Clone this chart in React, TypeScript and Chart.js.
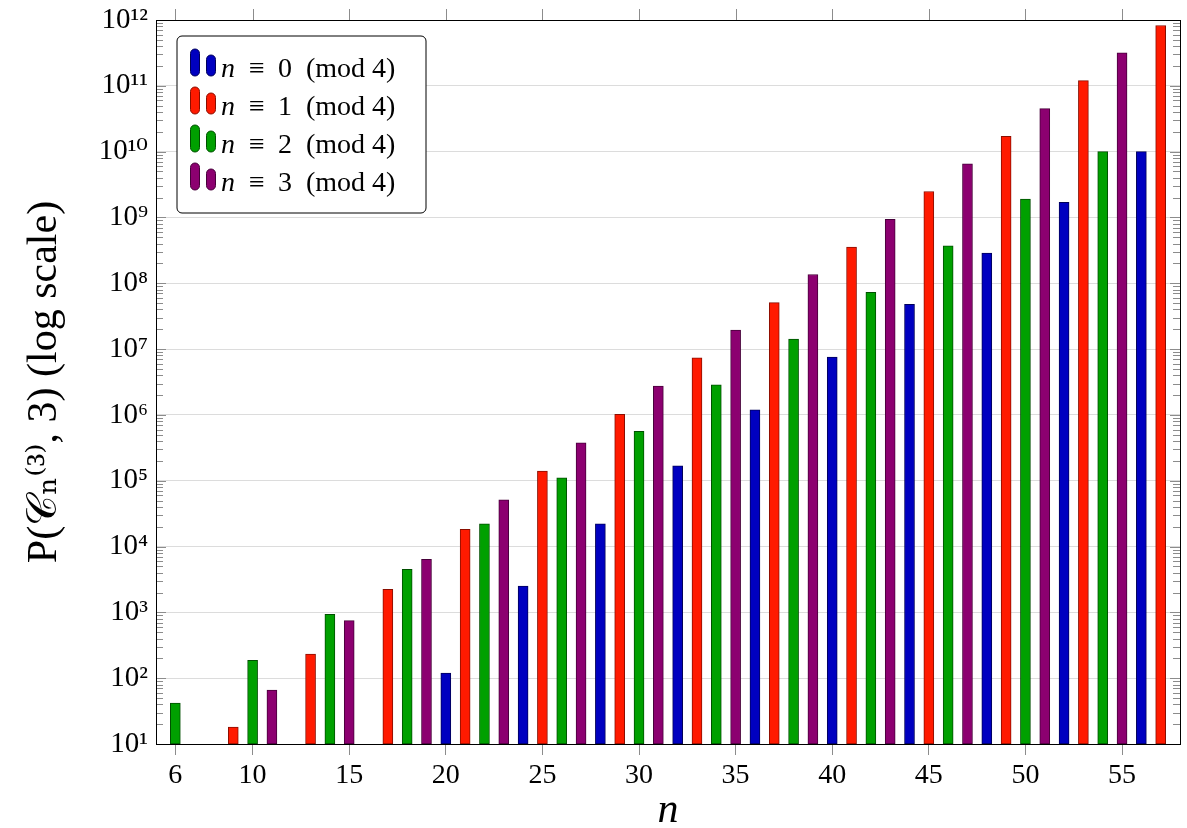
import React, { useEffect, useRef } from 'react';
import { Chart, registerables } from 'chart.js';

Chart.register(...registerables);

// ---- data ----
const nValues = [
  6, 7, 8, 9, 10, 11, 12, 13, 14, 15, 16, 17, 18, 19, 20, 21, 22, 23, 24, 25, 26,
  27, 28, 29, 30, 31, 32, 33, 34, 35, 36, 37, 38, 39, 40, 41, 42, 43, 44, 45, 46,
  47, 48, 49, 50, 51, 52, 53, 54, 55, 56, 57,
];
const pValues: (number | null)[] = [
  42, null, null, 18, 187, 66, null, 233, 933, 748, null, 2240, 4500, 6380, 120,
  18300, 22100, 51300, 2500, 140000, 111000, 378000, 22100, 1020000, 561000,
  2730000, 169000, 7350000, 2860000, 19500000, 1190000, 50700000, 14200000,
  136000000, 7550000, 356000000, 73000000, 940000000, 48000000, 2480000000,
  372000000, 6530000000, 288000000, 17100000000, 1900000000, 45000000000,
  1700000000, 120000000000, 10000000000, 317000000000, 10000000000, 824000000000,
];
const residues = [0, 1, 2, 3];
const seriesLabels = ['n ≡ 0 (mod 4)', 'n ≡ 1 (mod 4)', 'n ≡ 2 (mod 4)', 'n ≡ 3 (mod 4)'];
const xTickValues = [6, 10, 15, 20, 25, 30, 35, 40, 45, 50, 55];
const yTickExponents = [1, 2, 3, 4, 5, 6, 7, 8, 9, 10, 11, 12];

// ---- styles ----
const fillColors = ['#0000c0', '#ff1a00', '#00a000', '#8c0070'];
const borderColors = ['#00005a', '#8a0e00', '#004f00', '#47003a'];
const FONT = "'Liberation Serif', 'DejaVu Serif', serif";
const SUP = '⁰¹²³⁴⁵⁶⁷⁸⁹';
const toSup = (k: number) => String(k).split('').map((d) => SUP[+d]).join('');

const framePlugin = {
  id: 'frameTicks',
  afterDraw(chart: any) {
    const { ctx, chartArea: ca, scales } = chart;
    const xs = scales.x;
    const ys = scales.y;
    ctx.save();
    ctx.lineWidth = 1;
    ctx.strokeStyle = '#8c8c8c';
    const line = (x1: number, y1: number, x2: number, y2: number) => {
      ctx.beginPath();
      ctx.moveTo(x1, y1);
      ctx.lineTo(x2, y2);
      ctx.stroke();
    };
    for (const e of yTickExponents) {
      for (let m = 1; m <= 9; m++) {
        if (e === 12 && m > 1) break;
        const v = m * Math.pow(10, e);
        const py = Math.round(ys.getPixelForValue(v)) + 0.5;
        const len = m === 1 ? 10 : 7;
        line(ca.left, py, ca.left + len, py);
        line(ca.right - len, py, ca.right, py);
      }
    }
    for (const t of xTickValues) {
      const px = Math.round(xs.getPixelForValue(t)) + 0.5;
      line(px, ca.top, px, ca.top - 11);
    }
    ctx.strokeStyle = '#000';
    ctx.strokeRect(ca.left + 0.5, ca.top + 0.5, ca.right - ca.left, ca.bottom - ca.top);

    // legend box
    const bx = 177, by = 36, bw = 249, bh = 177, r = 5;
    ctx.beginPath();
    ctx.moveTo(bx + r, by);
    ctx.arcTo(bx + bw, by, bx + bw, by + bh, r);
    ctx.arcTo(bx + bw, by + bh, bx, by + bh, r);
    ctx.arcTo(bx, by + bh, bx, by, r);
    ctx.arcTo(bx, by, bx + bw, by, r);
    ctx.closePath();
    ctx.fillStyle = '#fff';
    ctx.fill();
    ctx.strokeStyle = '#000';
    ctx.lineWidth = 1;
    ctx.stroke();

    const pill = (x: number, y: number, w: number, h: number, fill: string, stroke: string) => {
      const rr = w / 2;
      ctx.beginPath();
      ctx.moveTo(x + rr, y);
      ctx.arcTo(x + w, y, x + w, y + h, rr);
      ctx.arcTo(x + w, y + h, x, y + h, rr);
      ctx.arcTo(x, y + h, x, y, rr);
      ctx.arcTo(x, y, x + w, y, rr);
      ctx.closePath();
      ctx.fillStyle = fill;
      ctx.fill();
      ctx.strokeStyle = stroke;
      ctx.stroke();
    };

    chart.data.datasets.forEach((ds: any, i: number) => {
      const base = 77 + i * 38;
      pill(190.5, base - 28, 9, 27, ds.backgroundColor, ds.borderColor);
      pill(206.5, base - 22, 9, 21, ds.backgroundColor, ds.borderColor);
      ctx.fillStyle = '#000';
      ctx.textBaseline = 'alphabetic';
      ctx.textAlign = 'left';
      const parts = String(ds.label).split(' ');
      ctx.font = `italic 28px ${FONT}`;
      ctx.fillText(parts[0], 221, base);
      ctx.font = `28px ${FONT}`;
      ctx.textAlign = 'center';
      ctx.fillText(parts[1], 257, base);
      ctx.fillText(parts[2], 285, base);
      ctx.textAlign = 'left';
      ctx.fillText(parts.slice(3).join(' '), 306, base);
    });
    ctx.restore();
  },
};

export default function App() {
  const canvasRef = useRef<HTMLCanvasElement | null>(null);

  useEffect(() => {
    const canvas = canvasRef.current;
    if (!canvas) return;
    const datasets = residues.map((res, i) => ({
      label: seriesLabels[i],
      data: nValues
        .map((n, k) => ({ x: n, y: pValues[k] }))
        .filter((p) => p.x % 4 === res && p.y !== null),
      backgroundColor: fillColors[i],
      borderColor: borderColors[i],
      borderWidth: 1,
      borderSkipped: false,
      barThickness: 10,
      grouped: false,
    }));

    const chart = new Chart(canvas, {
      type: 'bar',
      data: { datasets },
      plugins: [framePlugin],
      options: {
        animation: false,
        responsive: false,
        devicePixelRatio: 1,
        layout: { padding: { top: 20, right: 7, left: 0, bottom: 0 } },
        plugins: { legend: { display: false }, tooltip: { enabled: false } },
        scales: {
          x: {
            type: 'linear',
            offset: false,
            min: 5,
            max: 58,
            afterBuildTicks: (s: any) => {
              s.ticks = xTickValues.map((v) => ({ value: v }));
            },
            afterFit: (s: any) => {
              s.height = 84;
            },
            grid: { offset: false, drawOnChartArea: false, drawTicks: true, tickLength: 11, color: '#8c8c8c' },
            border: { display: false },
            ticks: {
              autoSkip: false,
              maxRotation: 0,
              padding: 4,
              color: '#000',
              font: { family: FONT, size: 28 },
              callback: (v: any) => String(v),
            },
            title: {
              display: true,
              text: 'n',
              color: '#000',
              font: { family: FONT, size: 42, style: 'italic', lineHeight: 0.8 },
              padding: { top: 0, bottom: 0 },
            },
          },
          y: {
            type: 'logarithmic',
            min: 10,
            max: 1e12,
            afterBuildTicks: (s: any) => {
              s.ticks = yTickExponents.map((e) => ({ value: Math.pow(10, e) }));
            },
            afterFit: (s: any) => {
              s.width = 156;
              s.paddingTop = 0;
              s.paddingBottom = 0;
            },
            grid: { color: '#dcdcdc', drawTicks: false },
            border: { display: false },
            ticks: {
              padding: 8,
              color: '#000',
              font: { family: FONT, size: 29, lineHeight: 0.9 },
              callback: (v: any) => '10' + toSup(Math.round(Math.log10(Number(v)))),
            },
            title: {
              display: true,
              text: 'P(𝒞ₙ⁽³⁾, 3) (log scale)',
              color: '#000',
              font: { family: FONT, size: 42 },
              padding: { top: 20, bottom: 0 },
            },
          },
        },
      } as any,
    });
    return () => chart.destroy();
  }, []);

  return (
    <div style={{ position: 'fixed', left: 0, top: 0, width: 1187, height: 828, background: '#fff' }}>
      <canvas ref={canvasRef} width={1187} height={828} />
    </div>
  );
}
